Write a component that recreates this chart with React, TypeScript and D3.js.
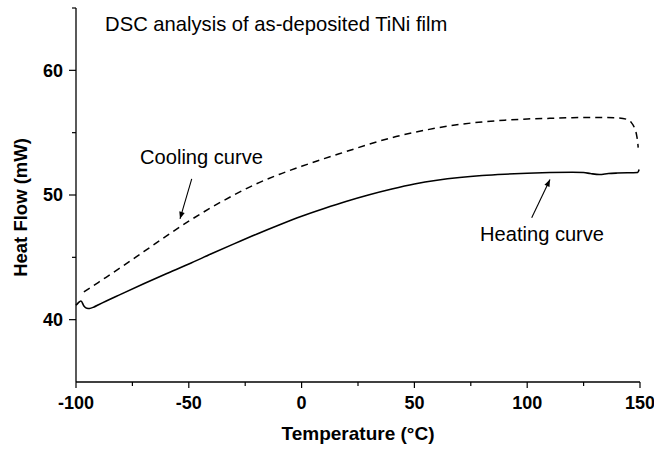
import React, { useEffect, useRef } from 'react';
import * as d3 from 'd3';

// Heating curve (solid), temperature in °C / heat flow in mW
const heatingT = [-100, -99, -97.8, -96.5, -95.2, -94, -92, -90, -80, -70, -60, -50, -40, -30, -20, -10, 0, 10, 20, 30, 40, 50, 60, 70, 80, 90, 100, 110, 120, 125, 128, 132, 136, 140, 149, 149.6];
const heatingV = [41.15, 41.35, 41.5, 41.1, 40.92, 40.9, 41.02, 41.2, 42.05, 42.88, 43.68, 44.46, 45.28, 46.08, 46.86, 47.6, 48.3, 48.92, 49.5, 50.02, 50.48, 50.88, 51.18, 51.4, 51.56, 51.67, 51.75, 51.8, 51.82, 51.8, 51.72, 51.64, 51.72, 51.76, 51.8, 52.05];

// Cooling curve (dashed)
const coolingT = [-96.5, -90, -80, -70, -60, -50, -40, -30, -20, -10, 0, 10, 20, 30, 40, 50, 60, 70, 80, 90, 100, 110, 120, 130, 140, 144, 146, 147.5, 148.5, 149, 149.2];
const coolingV = [42.22, 43.0, 44.2, 45.45, 46.7, 47.9, 49.0, 50.0, 50.9, 51.65, 52.3, 52.92, 53.5, 54.08, 54.6, 55.02, 55.38, 55.66, 55.86, 56.0, 56.1, 56.15, 56.2, 56.22, 56.18, 56.08, 55.85, 55.4, 54.8, 54.2, 53.8];

const xMajorTicks = [-100, -50, 0, 50, 100, 150];
const xMinorTicks = [-75, -25, 25, 75, 125];
const yMajorTicks = [40, 50, 60];
const yMinorTicks = [45, 55, 65];

const titleText = 'DSC analysis of as-deposited TiNi film';
const xTitle = 'Temperature (\u00B0C)';
const yTitle = 'Heat Flow (mW)';

// annotation anchors in data units [temperature, heat flow]
const titleAt = [-87.1, 63.13];
const coolingLabel = { text: 'Cooling curve', at: [-71.6, 52.45], from: [-48.7, 51.3], to: [-53.9, 48.09] };
const heatingLabel = { text: 'Heating curve', at: [79.1, 46.29], from: [102, 48.17], to: [110.1, 51.24] };

const App: React.FC = () => {
  const svgRef = useRef<SVGSVGElement>(null);
  const width = 654;
  const height = 450;

  useEffect(() => {
    if (!svgRef.current) return;
    d3.select(svgRef.current).selectAll('*').remove();

    const margin = { top: 8, right: 14, bottom: 68, left: 76 };
    const innerWidth = width - margin.left - margin.right;
    const innerHeight = height - margin.top - margin.bottom;

    const svg = d3
      .select(svgRef.current)
      .attr('width', width)
      .attr('height', height)
      .append('g')
      .attr('transform', `translate(${margin.left},${margin.top})`);

    const x = d3.scaleLinear().domain([-100, 150]).range([0, innerWidth]);
    const y = d3.scaleLinear().domain([35, 65]).range([innerHeight, 0]);

    const font = 'Liberation Sans, Arial, Helvetica, sans-serif';

    // arrow marker
    svg
      .append('defs')
      .append('marker')
      .attr('id', 'arrowHead')
      .attr('viewBox', '0 0 10 10')
      .attr('refX', 10)
      .attr('refY', 5)
      .attr('markerWidth', 9)
      .attr('markerHeight', 7)
      .attr('markerUnits', 'userSpaceOnUse')
      .attr('orient', 'auto')
      .append('path')
      .attr('d', 'M0,1 L10,5 L0,9 Z')
      .attr('fill', '#000');

    // x axis
    const xAxis = svg.append('g').attr('transform', `translate(0,${innerHeight})`);
    xAxis.append('line').attr('x1', 0).attr('x2', innerWidth).attr('stroke', '#000').attr('stroke-width', 1.3);
    xAxis
      .selectAll('.xmaj')
      .data(xMajorTicks)
      .enter()
      .append('line')
      .attr('x1', d => x(d))
      .attr('x2', d => x(d))
      .attr('y1', 0)
      .attr('y2', 6)
      .attr('stroke', '#000')
      .attr('stroke-width', 1.2);
    xAxis
      .selectAll('.xmin')
      .data(xMinorTicks)
      .enter()
      .append('line')
      .attr('x1', d => x(d))
      .attr('x2', d => x(d))
      .attr('y1', 0)
      .attr('y2', 4)
      .attr('stroke', '#000')
      .attr('stroke-width', 1.2);
    xAxis
      .selectAll('.xlab')
      .data(xMajorTicks)
      .enter()
      .append('text')
      .attr('x', d => x(d))
      .attr('y', 27)
      .attr('text-anchor', 'middle')
      .attr('font-family', font)
      .attr('font-weight', 'bold')
      .attr('font-size', 18)
      .text(d => String(d));
    xAxis
      .append('text')
      .attr('x', x(25))
      .attr('y', 58)
      .attr('text-anchor', 'middle')
      .attr('font-family', font)
      .attr('font-weight', 'bold')
      .attr('font-size', 19)
      .text(xTitle);

    // y axis
    const yAxis = svg.append('g');
    yAxis.append('line').attr('y1', 0).attr('y2', innerHeight).attr('stroke', '#000').attr('stroke-width', 1.3);
    yAxis
      .selectAll('.ymaj')
      .data(yMajorTicks)
      .enter()
      .append('line')
      .attr('y1', d => y(d))
      .attr('y2', d => y(d))
      .attr('x1', -7)
      .attr('x2', 0)
      .attr('stroke', '#000')
      .attr('stroke-width', 1.2);
    yAxis
      .selectAll('.ymin')
      .data(yMinorTicks)
      .enter()
      .append('line')
      .attr('y1', d => y(d))
      .attr('y2', d => y(d))
      .attr('x1', -4)
      .attr('x2', 0)
      .attr('stroke', '#000')
      .attr('stroke-width', 1.2);
    yAxis
      .selectAll('.ylab')
      .data(yMajorTicks)
      .enter()
      .append('text')
      .attr('x', -13)
      .attr('y', d => y(d))
      .attr('dy', '0.36em')
      .attr('text-anchor', 'end')
      .attr('font-family', font)
      .attr('font-weight', 'bold')
      .attr('font-size', 18)
      .text(d => String(d));
    yAxis
      .append('text')
      .attr('transform', `translate(-49,${y(49)}) rotate(-90)`)
      .attr('text-anchor', 'middle')
      .attr('font-family', font)
      .attr('font-weight', 'bold')
      .attr('font-size', 18.5)
      .text(yTitle);

    const line = d3
      .line<[number, number]>()
      .x(d => x(d[0]))
      .y(d => y(d[1]))
      .curve(d3.curveMonotoneX);

    const heating: [number, number][] = heatingT.map((t, i) => [t, heatingV[i]]);
    const cooling: [number, number][] = coolingT.map((t, i) => [t, coolingV[i]]);

    svg
      .append('path')
      .datum(cooling)
      .attr('fill', 'none')
      .attr('stroke', '#000')
      .attr('stroke-width', 1.5)
      .attr('stroke-dasharray', '7,5')
      .attr('d', line);

    svg
      .append('path')
      .datum(heating)
      .attr('fill', 'none')
      .attr('stroke', '#000')
      .attr('stroke-width', 1.6)
      .attr('d', line);

    // title
    svg
      .append('text')
      .attr('x', x(titleAt[0]))
      .attr('y', y(titleAt[1]))
      .attr('font-family', font)
      .attr('font-size', 20.2)
      .text(titleText);

    // annotations
    [coolingLabel, heatingLabel].forEach(a => {
      svg
        .append('text')
        .attr('x', x(a.at[0]))
        .attr('y', y(a.at[1]))
        .attr('font-family', font)
        .attr('font-size', 20.1)
        .text(a.text);
      svg
        .append('line')
        .attr('x1', x(a.from[0]))
        .attr('y1', y(a.from[1]))
        .attr('x2', x(a.to[0]))
        .attr('y2', y(a.to[1]))
        .attr('stroke', '#000')
        .attr('stroke-width', 1.1)
        .attr('marker-end', 'url(#arrowHead)');
    });
  }, []);

  return <svg ref={svgRef} style={{ position: 'absolute', left: 0, top: 0, background: '#fff' }} />;
};

export default App;
